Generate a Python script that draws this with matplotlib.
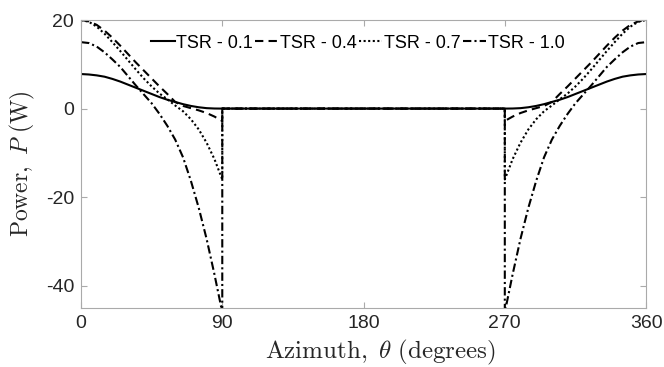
import matplotlib
matplotlib.use("Agg")
import matplotlib.pyplot as plt

# azimuth (deg), upstream half (0-90) and downstream (270-360)
theta_up = [0, 5, 10, 15, 20, 25, 30, 35, 40, 45, 50, 55, 60, 65, 70, 75, 80, 85, 90]
theta_down = [270, 275, 280, 285, 290, 295, 300, 305, 310, 315, 320, 325, 330, 335, 340, 345, 350, 355, 360]

tsr_01_up = [7.8, 7.7, 7.5, 7.2, 6.7, 6.1, 5.4, 4.7, 4.0, 3.3, 2.6, 2.0, 1.5, 1.0, 0.6, 0.3, 0.1, 0.02, 0.0]
tsr_04_up = [20.0, 19.7, 18.9, 17.6, 16.0, 14.2, 12.3, 10.4, 8.6, 6.8, 5.0, 3.3, 1.5, 0.6, 0.1, -0.4, -1.0, -1.8, -2.8]
tsr_07_up = [20.0, 19.6, 18.5, 16.9, 15.0, 13.0, 10.9, 8.8, 6.8, 5.0, 3.4, 2.1, 0.7, -0.6, -2.4, -4.7, -7.7, -11.4, -16.0]
tsr_10_up = [15.0, 14.8, 14.0, 12.7, 11.1, 9.4, 7.3, 5.2, 3.2, 1.2, -1.2, -3.9, -7.0, -11.0, -16.3, -22.4, -29.4, -37.4, -46.0]

tsr_01_down = [0.0, 0.02, 0.1, 0.3, 0.6, 1.0, 1.5, 2.0, 2.6, 3.3, 4.0, 4.7, 5.4, 6.1, 6.7, 7.2, 7.5, 7.7, 7.8]
tsr_04_down = [-2.8, -1.8, -1.0, -0.4, 0.1, 0.6, 1.5, 3.3, 5.0, 6.8, 8.6, 10.4, 12.3, 14.2, 16.0, 17.6, 18.9, 19.7, 20.0]
tsr_07_down = [-16.0, -11.4, -7.7, -4.7, -2.4, -0.6, 0.7, 2.1, 3.4, 5.0, 6.8, 8.8, 10.9, 13.0, 15.0, 16.9, 18.5, 19.6, 20.0]
tsr_10_down = [-46.0, -37.4, -29.4, -22.4, -16.3, -11.0, -7.0, -3.9, -1.2, 1.2, 3.2, 5.2, 7.3, 9.4, 11.1, 12.7, 14.0, 14.8, 15.0]

labels = ["TSR - 0.1", "TSR - 0.4", "TSR - 0.7", "TSR - 1.0"]
styles = ["-", (0, (4, 2.5)), (0, (1, 1.2)), (0, (4, 1.5, 1, 1.5))]

plt.rcParams["font.family"] = ["Liberation Sans", "DejaVu Sans"]
plt.rcParams["mathtext.fontset"] = "cm"
plt.rcParams["axes.unicode_minus"] = False

fig = plt.figure(figsize=(6.64, 3.67), dpi=100)
ax = fig.add_axes([0.122, 0.161, 0.851, 0.7845])

series = [(tsr_01_up, tsr_01_down), (tsr_04_up, tsr_04_down),
          (tsr_07_up, tsr_07_down), (tsr_10_up, tsr_10_down)]
for (up, down), lab, ls in zip(series, labels, styles):
    # blade passes through zero power between 90 and 270 deg
    x = theta_up + [90, 270] + theta_down
    y = up + [0, 0] + down
    ax.plot(x, y, color="black", linestyle=ls, linewidth=1.5, label=lab)

ax.set_xlim(0, 360)
ax.set_ylim(-45, 20)
ax.set_xticks([0, 90, 180, 270, 360])
ax.set_yticks([-40, -20, 0, 20])
ax.tick_params(direction="in", top=True, right=True, length=4, pad=5,
               labelsize=14, colors="#aaaaaa", labelcolor="#262626")
for s in ax.spines.values():
    s.set_color("#aaaaaa")

ax.set_xlabel(r"$\mathrm{Azimuth,}\ \theta\ \mathrm{(degrees)}$", fontsize=18, color="#262626")
ax.xaxis.set_label_coords(0.53, -0.105)
ax.set_ylabel(r"$\mathrm{Power,}\ P\ \mathrm{(W)}$", fontsize=17, color="#262626", labelpad=6)

ax.legend(loc="center", bbox_to_anchor=(0.49, 0.92), ncol=4, frameon=False,
          fontsize=13, handlelength=1.3, handletextpad=0.1, columnspacing=0.1,
          borderaxespad=0)

fig.savefig("out.png", dpi=100)
